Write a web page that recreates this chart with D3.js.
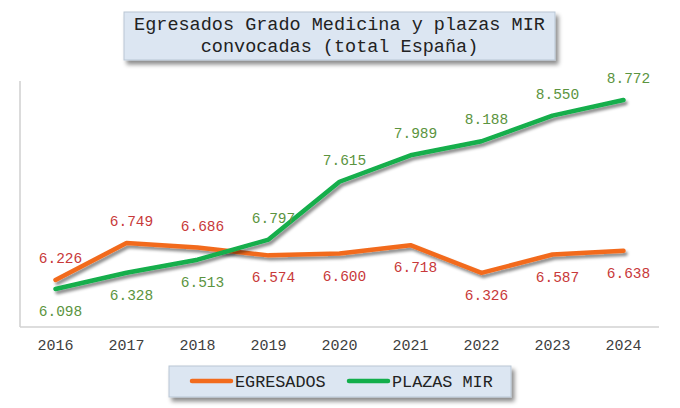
<!DOCTYPE html>
<html><head><meta charset="utf-8">
<script src="https://cdn.jsdelivr.net/npm/d3@7"></script>
<style>body{margin:0;background:#fff}svg{display:block}</style>
</head><body>
<script>
const years = ["2016","2017","2018","2019","2020","2021","2022","2023","2024"];
const egresados = [6226,6749,6686,6574,6600,6718,6326,6587,6638];
const plazasMIR = [6098,6328,6513,6797,7615,7989,8188,8550,8772];
// label placement: 1 = above, -1 = below
const egresadosPos = [1,1,1,-1,-1,-1,-1,-1,-1];
const plazasPos = [-1,-1,-1,1,1,1,1,1,1];
const titleLines = ["Egresados Grado Medicina y plazas MIR","convocadas (total España)"];
const seriesNames = ["EGRESADOS","PLAZAS MIR"];

const W=680,H=408;
const font="'Liberation Mono','Courier New',monospace";
const svg=d3.select("body").append("svg").attr("width",W).attr("height",H);
const defs=svg.append("defs");
function shadow(id,dx,dy,sd,op){
  const f=defs.append("filter").attr("id",id).attr("x","-20%").attr("y","-20%").attr("width","140%").attr("height","160%");
  f.append("feDropShadow").attr("dx",dx).attr("dy",dy).attr("stdDeviation",sd).attr("flood-color","#000").attr("flood-opacity",op);
}
shadow("boxsh",3,4,2.2,0.45);
shadow("linesh",2,3,1.6,0.45);
shadow("gridsh",1,1,0.6,0.25);

const x=d3.scaleBand().domain(years).range([20,659]);
const y=d3.scaleLinear().domain([5561,9040]).range([327,81]);
const cx=d=>x(d)+x.bandwidth()/2;

// gridlines
const g=svg.append("g");
g.selectAll("line.grid").data(years).join("line")
  .attr("x1",d=>x(d)+x.bandwidth()).attr("x2",d=>x(d)+x.bandwidth())
  .attr("y1",81).attr("y2",327)
  .attr("stroke","#d2d2d2").attr("stroke-width",1.4).attr("filter","url(#gridsh)");
g.append("line").attr("x1",20).attr("x2",20).attr("y1",81).attr("y2",327).attr("stroke","#d2d2d2").attr("stroke-width",1.6);
g.append("line").attr("x1",20).attr("x2",659).attr("y1",327).attr("y2",327).attr("stroke","#d2d2d2").attr("stroke-width",1.6);

// axis labels
const xAxis=d3.axisBottom(x).tickSize(0).tickPadding(0);
const ax=svg.append("g").attr("transform","translate(0,339)").call(xAxis);
ax.select(".domain").remove();
ax.selectAll("text").attr("font-family",font).attr("font-size",15).attr("fill","#404040").attr("dy","0.71em");

// lines
const line=d3.line().x((d,i)=>cx(years[i])).y(d=>y(d));
svg.append("path").datum(egresados).attr("d",line).attr("fill","none")
  .attr("stroke","#f26b1d").attr("stroke-width",4.5).attr("stroke-linecap","round").attr("stroke-linejoin","round").attr("filter","url(#linesh)");
svg.append("path").datum(plazasMIR).attr("d",line).attr("fill","none")
  .attr("stroke","#12ae4b").attr("stroke-width",4.5).attr("stroke-linecap","round").attr("stroke-linejoin","round").attr("filter","url(#linesh)");

const fmt=v=>d3.format(",")(v).replace(",",".");
function labels(data,pos,color){
  svg.append("g").selectAll("text").data(data).join("text")
    .attr("x",(d,i)=>cx(years[i])+5)
    .attr("y",(d,i)=>y(d)-pos[i]*22)
    .attr("dy","0.35em").attr("text-anchor","middle")
    .attr("font-family",font).attr("font-size",14.5).attr("fill",color)
    .text(fmt);
}
labels(egresados,egresadosPos,"#c8393a");
labels(plazasMIR,plazasPos,"#5b9440");

// title box
const tb=svg.append("g");
tb.append("rect").attr("x",124).attr("y",12).attr("width",431).attr("height",48)
  .attr("fill","#dce6f2").attr("stroke","#b9c6d4").attr("stroke-width",1).attr("filter","url(#boxsh)");
tb.selectAll("text").data(titleLines).join("text")
  .attr("x",339.5).attr("y",(d,i)=>24+i*22).attr("dy","0.35em").attr("text-anchor","middle")
  .attr("font-family",font).attr("font-size",18.5).attr("fill","#222").text(d=>d);

// legend
const lg=svg.append("g");
lg.append("rect").attr("x",169).attr("y",366).attr("width",342).attr("height",31)
  .attr("fill","#dce6f2").attr("stroke","#b9c6d4").attr("stroke-width",1).attr("filter","url(#boxsh)");
const legItems=[{name:seriesNames[0],color:"#f26b1d",x:192},{name:seriesNames[1],color:"#12ae4b",x:349}];
legItems.forEach(it=>{
  lg.append("line").attr("x1",it.x).attr("x2",it.x+39).attr("y1",381).attr("y2",381)
    .attr("stroke",it.color).attr("stroke-width",4.5).attr("stroke-linecap","round");
  lg.append("text").attr("x",it.x+43).attr("y",381).attr("dy","0.35em")
    .attr("font-family",font).attr("font-size",16.8).attr("fill","#222").text(it.name);
});
</script>
</body></html>
